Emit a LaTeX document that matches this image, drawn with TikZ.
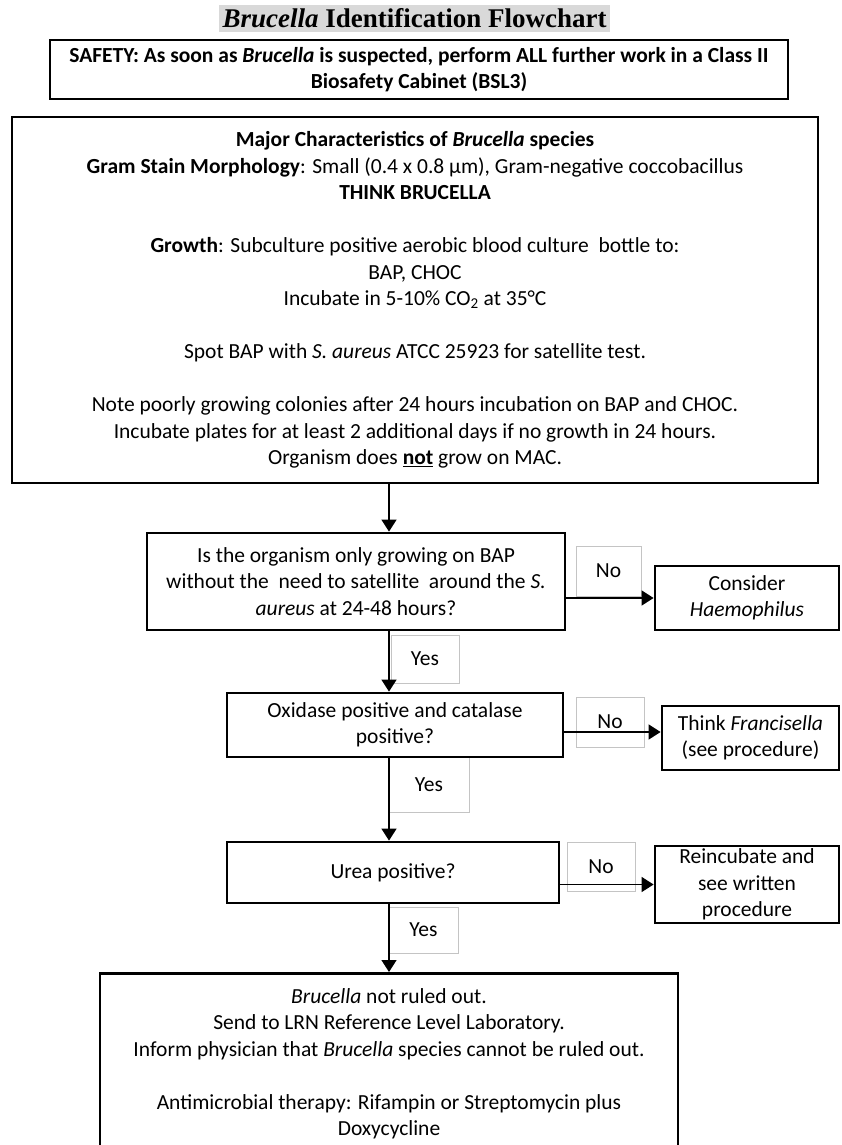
\documentclass[tikz,border=0pt]{standalone}
\usepackage{fontspec}
\setmainfont{Carlito}
\newfontfamily\titlefont{Liberation Serif}
\usetikzlibrary{arrows.meta}
\definecolor{titlegray}{HTML}{D9D9D9}
\definecolor{labgray}{HTML}{C4C4C4}
\newcommand\fsz{\fontsize{21.5}{26.5}\selectfont}
\begin{document}
\begin{tikzpicture}[x=1pt,y=-1pt,
  box/.style={draw=black, line width=2.8pt, align=center, inner sep=0pt, font=\fsz},
  lab/.style={draw=labgray, line width=0.7pt, inner sep=0pt, font=\fsz},
  arr/.style={line width=1.4pt, -{Triangle[width=15pt,length=12pt]}}]
\useasboundingbox (0,0) rectangle (841,1145);

% title
\node[fill=titlegray, minimum width=391pt, minimum height=27pt, inner sep=0pt,
      font=\titlefont\bfseries\fontsize{27}{30}\selectfont] (title) at (414.5,18.5)
  {\textit{Brucella} Identification Flowchart};

% safety
\node[box, font=\fsz\bfseries, minimum width=738pt, minimum height=59pt] (safety) at (419,69.5)
  {SAFETY: As soon as \textit{Brucella} is suspected, perform ALL further work in a Class II\\
   Biosafety Cabinet (BSL3)};

% major characteristics
\node[box, minimum width=806pt, minimum height=366pt] (major) at (415,300)
  {\textbf{Major Characteristics of \textit{Brucella} species}\\
   \textbf{Gram Stain Morphology}: Small (0.4 x 0.8 µm), Gram-negative coccobacillus\\
   \textbf{THINK BRUCELLA}\\[26.5pt]
   \textbf{Growth}: Subculture positive aerobic blood culture\ \ bottle to:\\
   BAP, CHOC\\
   Incubate in 5-10\% CO\textsubscript{2} at 35°C\\[26.5pt]
   Spot BAP with \textit{S. aureus} ATCC 25923 for satellite test.\\[26.5pt]
   Note poorly growing colonies after 24 hours incubation on BAP and CHOC.\\
   Incubate plates for at least 2 additional days if no growth in 24 hours.\\
   Organism does \textbf{\underline{not}} grow on MAC.};

% label boxes
\node[lab, minimum width=65pt, minimum height=50pt] (no1) at (608.5,571) {No};
\node[lab, minimum width=68pt, minimum height=48pt] (yes1) at (425,659) {Yes};
\node[lab, minimum width=68pt, minimum height=50pt] (no2) at (610,722) {No};
\node[lab, minimum width=80pt, minimum height=55pt] (yes2) at (429,784.5) {Yes};
\node[lab, minimum width=68pt, minimum height=49pt] (no3) at (601,866.5) {No};
\node[lab, minimum width=69pt, minimum height=46pt] (yes3) at (423.5,930) {Yes};

% decision boxes
\node[box, minimum width=418pt, minimum height=97pt] (q1) at (356,581.5)
  {Is the organism only growing on BAP\\
   without the\ \ need to satellite\ \ around the \textit{S.}\\
   \textit{aureus} at 24-48 hours?};
\node[box, minimum width=336pt, minimum height=64pt] (oxi) at (395,725)
  {Oxidase positive and catalase\\positive?};
\node[box, minimum width=332pt, minimum height=61pt] (urea) at (393,872.5)
  {Urea positive?};

% outcome boxes
\node[box, minimum width=184pt, minimum height=64pt] (cons) at (747,598)
  {Consider\\\textit{Haemophilus}};
\node[box, minimum width=177pt, minimum height=64pt] (fran) at (750.5,738)
  {Think \textit{Francisella}\\(see procedure)};
\node[box, minimum width=184pt, minimum height=77pt] (reinc) at (747,884.5)
  {Reincubate and\\see written\\procedure};
\node[box, anchor=north, inner xsep=0pt, inner ysep=15pt] (final) at (389,972)
  {\begin{minipage}[t][185pt][t]{578pt}\centering
   \textit{Brucella} not ruled out.\\
   Send to LRN Reference Level Laboratory.\\
   Inform physician that \textit{Brucella} species cannot be ruled out.\\[26.5pt]
   Antimicrobial therapy: Rifampin or Streptomycin plus\\
   Doxycycline
   \end{minipage}};

% connectors
\coordinate (ax) at (389,0);
\coordinate (fy) at (0,732);
\draw[arr] (major.south -| ax) -- (q1.north -| ax);
\draw[arr] (q1.south -| ax) -- (oxi.north -| ax);
\draw[arr] (oxi.south -| ax) -- (urea.north -| ax);
\draw[arr] (urea.south -| ax) -- (final.north -| ax);
\draw[arr] (q1.east |- cons.west) -- (cons.west);
\draw[arr] (oxi.east |- fy) -- (fran.west |- fy);
\draw[arr] (urea.east |- reinc.west) -- (reinc.west);
\end{tikzpicture}
\end{document}
